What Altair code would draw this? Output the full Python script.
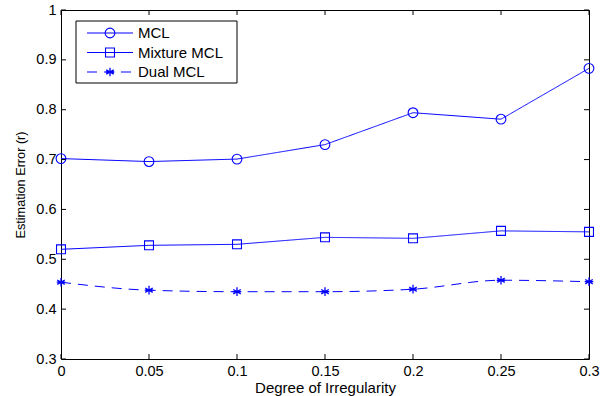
import altair as alt
import pandas as pd

x_vals = [0, 0.05, 0.1, 0.15, 0.2, 0.25, 0.3]
mcl = [0.702, 0.696, 0.701, 0.730, 0.794, 0.781, 0.883]
mixture = [0.520, 0.528, 0.530, 0.544, 0.542, 0.557, 0.555]
dual = [0.454, 0.438, 0.435, 0.435, 0.440, 0.458, 0.455]
series_names = ["MCL", "Mixture MCL", "Dual MCL"]
x_ticks = [0, 0.05, 0.1, 0.15, 0.2, 0.25, 0.3]
y_ticks = [0.3, 0.4, 0.5, 0.6, 0.7, 0.8, 0.9, 1.0]

BLUE = "#0000ff"
FONT = "Liberation Sans"
W, H = 528, 349

STAR = "M0,-1L0,1M-0.87,-0.5L0.87,0.5M-0.87,0.5L0.87,-0.5M-1,0L1,0"

df = pd.DataFrame({
    "x": x_vals * 3,
    "y": mcl + mixture + dual,
    "s": [series_names[0]] * 7 + [series_names[1]] * 7 + [series_names[2]] * 7,
})

xs = alt.Scale(domain=[0, 0.3], nice=False, zero=False)
ys = alt.Scale(domain=[0.3, 1.0], nice=False, zero=False)

xax = alt.Axis(values=x_ticks, format="~g", ticks=False, domain=False, grid=False,
               labelFlush=False, labelOverlap=False,
               labelFont=FONT, labelFontSize=14.5, labelColor="black", labelPadding=5,
               title="Degree of Irregularity", titleFont=FONT, titleFontSize=15,
               titleFontWeight="normal", titleColor="black", titlePadding=3)
yax = alt.Axis(values=y_ticks, format="~g", ticks=False, domain=False, grid=False,
               labelFlush=False, labelOverlap=False,
               labelFont=FONT, labelFontSize=14.5, labelColor="black", labelPadding=5,
               title="Estimation Error (r)", titleFont=FONT, titleFontSize=12.7,
               titleFontWeight="normal", titleColor="black", titlePadding=8)

base = alt.Chart(df)

def line_for(name, dash, interp):
    return base.transform_filter(alt.datum.s == name).mark_line(
        color=BLUE, strokeWidth=1, strokeDash=dash, interpolate=interp
    ).encode(x=alt.X("x:Q", scale=xs, axis=xax), y=alt.Y("y:Q", scale=ys, axis=yax))

def pts_for(name, shape, size, sw):
    return base.transform_filter(alt.datum.s == name).mark_point(
        color=BLUE, filled=False, strokeWidth=sw, shape=shape, size=size, opacity=1
    ).encode(x=alt.X("x:Q", scale=xs), y=alt.Y("y:Q", scale=ys))

DASH = [10, 7]
layers = [
    line_for("MCL", [1, 0], "linear"), pts_for("MCL", "circle", 95, 1.1),
    line_for("Mixture MCL", [1, 0], "linear"), pts_for("Mixture MCL", "square", 80, 1.1),
    line_for("Dual MCL", DASH, "monotone"), pts_for("Dual MCL", STAR, 75, 1.3),
]

xt = pd.DataFrame({"t": x_ticks})
yt = pd.DataFrame({"t": y_ticks})
tick_layers = [
    alt.Chart(xt).mark_rule(color="black", strokeWidth=1).encode(
        x=alt.X("t:Q", scale=xs), y=alt.value(H), y2=alt.value(H - 5)),
    alt.Chart(xt).mark_rule(color="black", strokeWidth=1).encode(
        x=alt.X("t:Q", scale=xs), y=alt.value(0), y2=alt.value(5)),
    alt.Chart(yt).mark_rule(color="black", strokeWidth=1).encode(
        y=alt.Y("t:Q", scale=ys), x=alt.value(0), x2=alt.value(5)),
    alt.Chart(yt).mark_rule(color="black", strokeWidth=1).encode(
        y=alt.Y("t:Q", scale=ys), x=alt.value(W), x2=alt.value(W - 5)),
]

# legend
leg = pd.DataFrame({"name": series_names, "row": [0, 1, 2]})
lx0, ly0 = 15, 11
legend_box = alt.Chart(pd.DataFrame({"a": [0]})).mark_rect(
    fill="white", stroke="black", strokeWidth=1
).encode(x=alt.value(lx0), x2=alt.value(lx0 + 161), y=alt.value(ly0), y2=alt.value(ly0 + 62))

def leg_y(r):
    return ly0 + 12 + 19.5 * r

legend_layers = [legend_box]
for i, (name, dash, shape, size, sw) in enumerate([
    ("MCL", [1, 0], "circle", 95, 1.1),
    ("Mixture MCL", [1, 0], "square", 80, 1.1),
    ("Dual MCL", DASH, STAR, 75, 1.3),
]):
    d = leg[leg["name"] == name]
    legend_layers.append(alt.Chart(d).mark_rule(color=BLUE, strokeWidth=1, strokeDash=dash).encode(
        x=alt.value(lx0 + 11), x2=alt.value(lx0 + 57), y=alt.value(leg_y(i))))
    legend_layers.append(alt.Chart(d).mark_point(color=BLUE, filled=False, shape=shape, size=size,
                                                 strokeWidth=sw, opacity=1).encode(
        x=alt.value(lx0 + 34), y=alt.value(leg_y(i))))
    legend_layers.append(alt.Chart(d).mark_text(align="left", baseline="middle", font=FONT,
                                                fontSize=15, color="black").encode(
        x=alt.value(lx0 + 62), y=alt.value(leg_y(i)), text="name:N"))

chart = alt.layer(*layers, *tick_layers, *legend_layers).properties(
    width=W, height=H,
    autosize=alt.AutoSizeParams(type="none"),
    padding={"left": 61, "top": 10, "right": 21, "bottom": 37},
    background="white",
).configure_view(stroke="black", strokeWidth=1)

chart.save("out.html", embed_options={"renderer": "svg", "actions": False})
